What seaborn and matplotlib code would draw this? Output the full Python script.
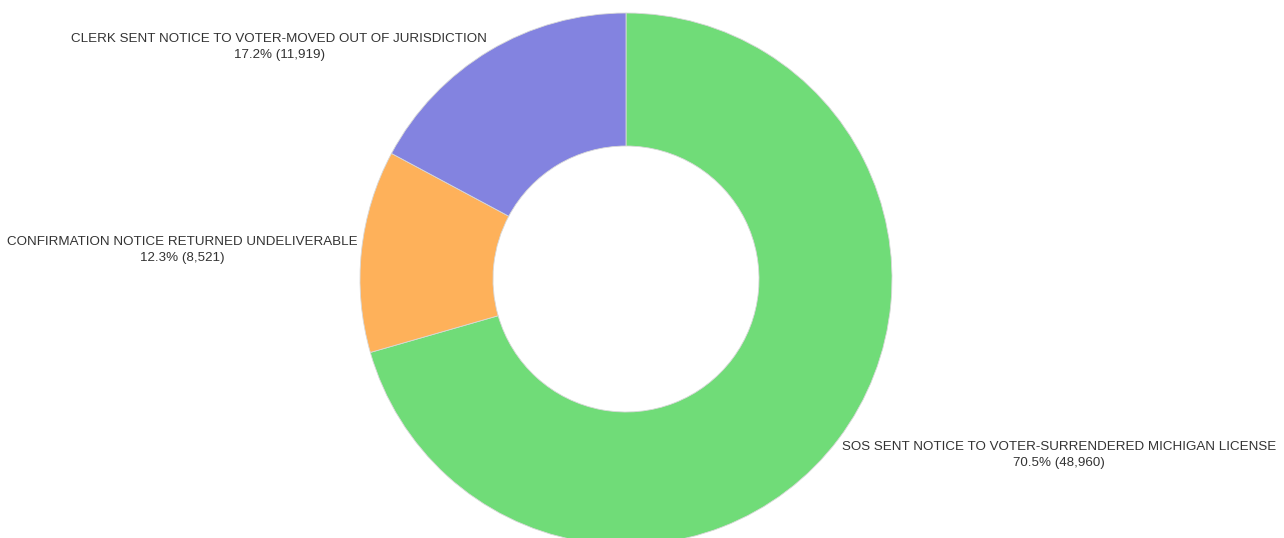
import math
import matplotlib
matplotlib.use("Agg")
import matplotlib.pyplot as plt
import seaborn as sns

# data
categories = [
    "SOS SENT NOTICE TO VOTER-SURRENDERED MICHIGAN LICENSE",
    "CONFIRMATION NOTICE RETURNED UNDELIVERABLE",
    "CLERK SENT NOTICE TO VOTER-MOVED OUT OF JURISDICTION",
]
counts = [48960, 8521, 11919]
colors = ["#70dc78", "#feb15a", "#8383e0"]

sns.set_theme(style="white")
plt.rcParams["font.family"] = ["Liberation Sans", "DejaVu Sans"]

total = sum(counts)
labels = [f"{c}\n{v / total * 100:.1f}% ({v:,})" for c, v in zip(categories, counts)]

fig = plt.figure(figsize=(12.84, 5.38), dpi=100)
ax = fig.add_axes([0, 0, 1, 1])

# work in pixel units so the donut sits where it does in the original
cx, cy, r = 626, 259, 266
wedges, _ = ax.pie(
    counts,
    colors=colors,
    startangle=90,
    counterclock=False,
    center=(cx, cy),
    radius=r,
    wedgeprops=dict(width=r / 2, edgecolor="#d8d8d8", linewidth=0.6),
)

# labels just outside the outer edge, at the middle of each slice
for w, lab in zip(wedges, labels):
    mid = math.radians((w.theta1 + w.theta2) / 2)
    x = cx + (r + 4) * math.cos(mid)
    y = cy + (r + 4) * math.sin(mid)
    ha = "left" if math.cos(mid) > 0 else "right"
    va = "top" if math.sin(mid) < 0 else "center"
    ax.text(x, y, lab, ha=ha, va=va, multialignment="center",
            fontsize=9.65, color="#333333", linespacing=1.45)

ax.set_xlim(0, 1284)
ax.set_ylim(0, 538)
ax.set_aspect("equal")
ax.axis("off")

plt.savefig("out.png", dpi=100)
plt.close()
